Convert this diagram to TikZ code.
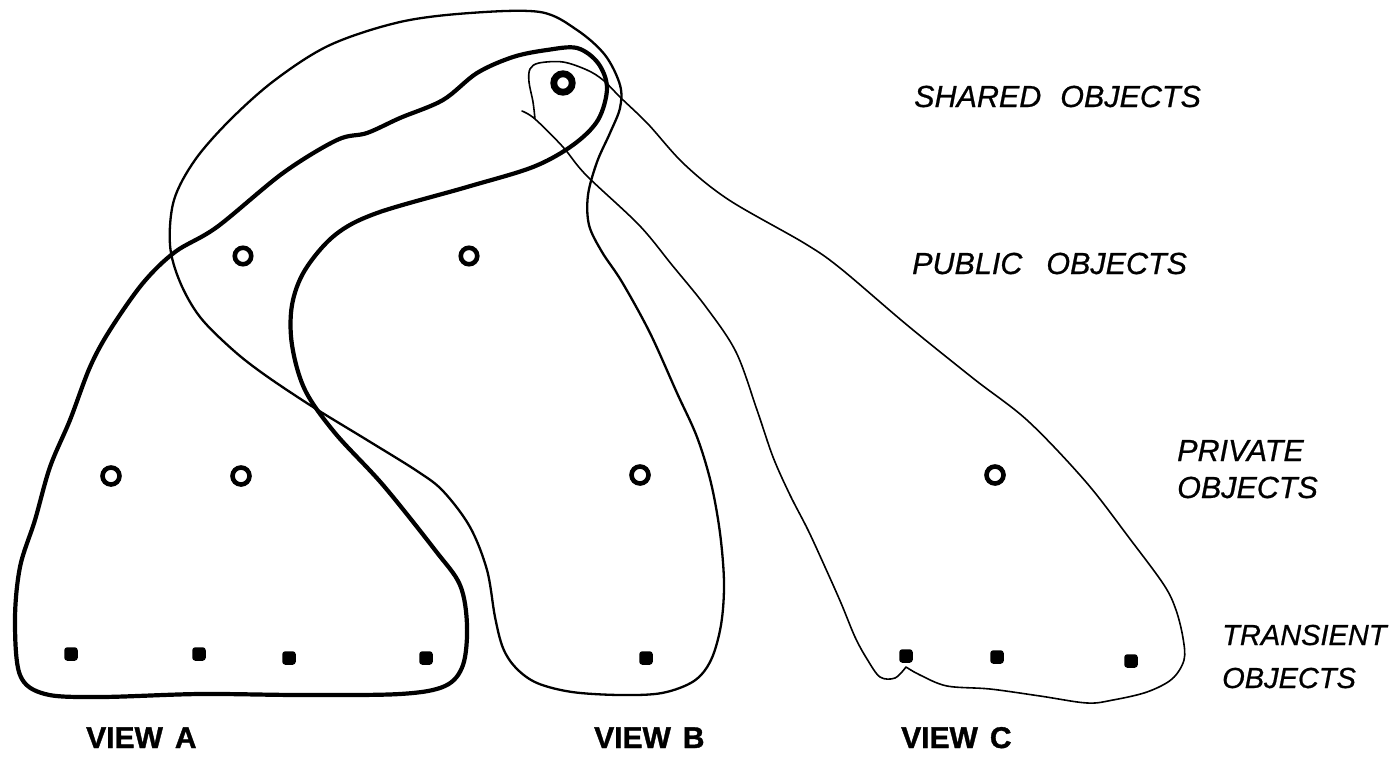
\documentclass[tikz,border=0pt]{standalone}
\usepackage{fontspec}
\setmainfont{Liberation Sans}
\newfontfamily\lettering[ItalicFeatures={FakeBold=0.7}]{Liberation Sans}
\newfontfamily\heavylettering[BoldFeatures={FakeBold=1.2}]{Liberation Sans}
\begin{document}
\begin{tikzpicture}[x=1pt,y=-1pt,
  ring/.style={circle,draw=black,line width=4.6pt,minimum size=16.5pt,inner sep=0pt},
  bigring/.style={circle,draw=black,line width=6.8pt,minimum size=18.5pt,inner sep=0pt},
  blob/.style={rectangle,fill=black,rounded corners=3pt,minimum size=13.5pt,inner sep=0pt},
  viewA/.style={line width=4.2pt,line join=round,line cap=round},
  viewB/.style={line width=2.3pt,line join=round,line cap=round},
  viewC/.style={line width=1.6pt,line join=round,line cap=round},
  level/.style={font=\lettering\fontsize{30.5}{37}\selectfont\itshape,anchor=base west,inner sep=0pt,align=left},
  viewlabel/.style={font=\heavylettering\fontsize{30}{34}\selectfont\bfseries,anchor=base west,inner sep=0pt}]
\useasboundingbox (0,0) rectangle (1399,760);

% ---- objects ----
\node[bigring] (sh)  at (563,83) {};
\node[ring] (pu1) at (243,256) {};
\node[ring] (pu2) at (469,256) {};
\node[ring,minimum size=17pt] (pr1) at (111,476) {};
\node[ring,minimum size=17pt] (pr2) at (241,476) {};
\node[ring,minimum size=17pt] (pr3) at (640,475) {};
\node[ring,minimum size=17pt] (pr4) at (995,475) {};
\node[blob] (t1) at (71,654) {};
\node[blob] (t2) at (199,654) {};
\node[blob] (t3) at (289,658) {};
\node[blob] (t4) at (426,658) {};
\node[blob] (t5) at (646,658) {};
\node[blob] (t6) at (906,656) {};
\node[blob] (t7) at (997,657) {};
\node[blob] (t8) at (1131,661) {};

% ---- view A (heavy outline) ----
\draw[viewA] plot[smooth cycle,tension=0.55] coordinates {
  (15,620) (20,675) (45,694) (100,697) (200,694) (300,695) (400,694)
  (445,686) (463,665) (467,625) (460,585) (435,550) (383,485) (335,433)
  (305,390) (292,345) (292,305) (305,270) (335,235) (377,213) (467,187)
  (533,167) (573,145) (598,120) (607,88) (598,63) (577,48) (547,50)
  (513,57) (477,73) (443,100) (400,118) (367,133) (337,140) (283,173)
  (217,227) (175,252) (143,283) (110,330) (90,367) (70,420) (50,467)
  (35,520) (20,567)};

% ---- view B (medium outline) ----
\draw[viewB] plot[smooth cycle,tension=0.55] coordinates {
  (540,12) (577,30) (605,55) (620,85) (620,108) (610,133) (597,162)
  (588,195) (589,225) (602,252) (622,282) (650,333) (677,393) (697,437)
  (711,483) (720,533) (724,583) (721,625) (711,660) (694,681) (662,693)
  (620,695) (572,692) (537,683) (516,668) (503,648) (495,617) (487,570)
  (470,527) (443,491) (417,471) (367,440) (313,407) (265,375) (233,350)
  (200,317) (180,282) (170,245) (174,200) (195,160) (230,120) (275,80)
  (330,45) (400,22) (470,13)};

% ---- view C (thin outline, closing round the shared object) ----
\draw[viewC] plot[smooth,tension=0.55] coordinates {
  (522,111) (535,119) (563,147) (586,175) (639,225) (672,265) (706,307)
  (736,352) (757,410) (773,457) (790,495) (808,530) (825,567) (841,603)
  (855,637) (867,659) (880,677) (895,678) (906,667)}
  -- plot[smooth,tension=0.55] coordinates {
  (906,667) (920,675) (947,686) (990,689) (1040,696) (1087,703) (1113,700)
  (1147,692) (1172,679) (1184,660) (1183,638) (1176,610) (1164,585)
  (1130,539) (1086,482) (1028,421) (974,379) (907,325) (840,268)
  (804,243) (729,200) (684,164) (648,124) (621,98) (603,80) (587,70)
  (563,62) (539,63) (530,69) (529,82) (533,102) (535,119)};

% ---- level labels (anchored on the baseline of the last line) ----
\node[level] (lsh) at (914,107) {SHARED\hspace{19pt}OBJECTS};
\node[level] (lpu) at (912,274) {PUBLIC\hspace{24pt}OBJECTS};
\node[level] (lpr) at (1177,498) {PRIVATE\\OBJECTS};
\node[level,font=\lettering\fontsize{29}{43}\selectfont\itshape] (ltr) at (1222,688) {TRANSIENT\\OBJECTS};

% ---- view labels ----
\node[viewlabel] (va) at (86,748) {VIEW\hspace{12pt}A};
\node[viewlabel] (vb) at (594,748) {VIEW\hspace{12pt}B};
\node[viewlabel] (vc) at (901,748) {VIEW\hspace{12pt}C};
\end{tikzpicture}
\end{document}
